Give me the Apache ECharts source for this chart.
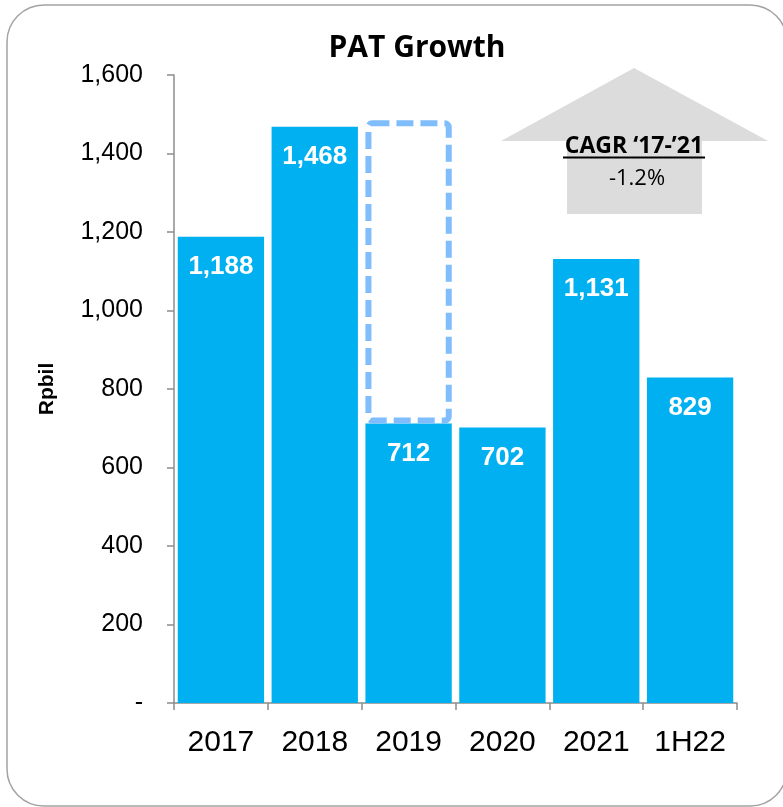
<!DOCTYPE html>
<html>
<head>
<meta charset="utf-8">
<script src="https://cdn.jsdelivr.net/npm/echarts@6/dist/echarts.min.js"></script>
<style>
  html, body { margin: 0; padding: 0; background: #fff; }
  #chart { width: 783px; height: 807px; }
</style>
</head>
<body>
<div id="chart"></div>
<script>
// PAT by period (Rp billion)
const categories = ['2017', '2018', '2019', '2020', '2021', '1H22'];
const patValues = [1188, 1468, 712, 702, 1131, 829];
// Outline level shown above the 2019 bar (dashed frame)
const outlineTop = [null, null, 1485, null, null, null];
const yTicks = { min: 0, max: 1600, interval: 200 };
const cagrTitle = 'CAGR \u201817-\u201921';
const cagrValue = '-1.2%';

const outlineSegment = outlineTop.map((v, i) => (v == null ? null : v - patValues[i]));

const fmt = v => (v === 0 ? '-' : v.toLocaleString('en-US'));

const chart = echarts.init(document.getElementById('chart'), null, { renderer: 'canvas' });

chart.setOption({
  animation: false,
  backgroundColor: '#ffffff',
  title: {
    text: 'PAT Growth',
    left: 412,
    top: 28,
    textAlign: 'center',
    textStyle: { fontFamily: 'Open Sans', fontWeight: 'bold', fontSize: 30, color: '#000' }
  },
  grid: { left: 174, right: 46, top: 75, bottom: 104 },
  xAxis: {
    type: 'category',
    data: categories,
    axisLine: { lineStyle: { color: '#8c8c8c', width: 1.5 } },
    axisTick: { show: true, length: 7, lineStyle: { color: '#8c8c8c', width: 1.5 } },
    axisLabel: { color: '#000', fontFamily: 'Liberation Sans', fontSize: 30, margin: 25 }
  },
  yAxis: {
    type: 'value',
    min: yTicks.min,
    max: yTicks.max,
    interval: yTicks.interval,
    name: 'Rpbil',
    nameLocation: 'middle',
    nameRotate: 90,
    nameGap: 116,
    nameTextStyle: { fontFamily: 'Liberation Sans', fontWeight: 'bold', fontSize: 21, color: '#000' },
    splitLine: { show: false },
    axisLine: { show: true, lineStyle: { color: '#8c8c8c', width: 1.5 } },
    axisTick: { show: true, length: 7, lineStyle: { color: '#8c8c8c', width: 1.5 } },
    axisLabel: { color: '#000', fontFamily: 'Liberation Sans', fontSize: 25, margin: 31, formatter: fmt }
  },
  series: [
    {
      type: 'bar',
      stack: 'pat',
      data: patValues,
      barCategoryGap: '8%',
      itemStyle: { color: '#00b0f0' },
      label: {
        show: true,
        position: 'insideTop',
        distance: 17,
        color: '#fff',
        fontFamily: 'Liberation Sans',
        fontWeight: 'bold',
        fontSize: 26,
        formatter: p => fmt(p.value)
      }
    },
    {
      type: 'bar',
      stack: 'pat',
      data: outlineSegment,
      itemStyle: {
        color: 'rgba(0,0,0,0)',
        borderColor: '#7fbdfc',
        borderWidth: 6,
        borderType: [17, 7],
        borderRadius: 4
      },
      label: { show: false }
    }
  ],
  graphic: [
    {
      type: 'rect',
      z: -1,
      shape: { x: 7, y: 5, width: 780, height: 801, r: 37 },
      style: { fill: 'none', stroke: '#a3a3a3', lineWidth: 1.5 }
    },
    {
      type: 'polygon',
      z: 1,
      shape: {
        points: [[634, 68], [768, 141], [702, 141], [702, 214], [567, 214], [567, 141], [501, 141]]
      },
      style: { fill: '#dcdcdc' }
    },
    {
      type: 'text',
      z: 2,
      x: 634, y: 146,
      style: {
        text: cagrTitle,
        fontFamily: 'Open Sans', fontWeight: 'bold', fontSize: 23, fill: '#000',
        align: 'center', verticalAlign: 'middle'
      }
    },
    {
      type: 'line',
      z: 2,
      shape: { x1: 563, y1: 157.5, x2: 705, y2: 157.5 },
      style: { stroke: '#000', lineWidth: 2 }
    },
    {
      type: 'text',
      z: 2,
      x: 637, y: 179,
      style: {
        text: cagrValue,
        fontFamily: 'Open Sans', fontSize: 22, fill: '#000',
        align: 'center', verticalAlign: 'middle'
      }
    }
  ]
});
</script>
</body>
</html>
